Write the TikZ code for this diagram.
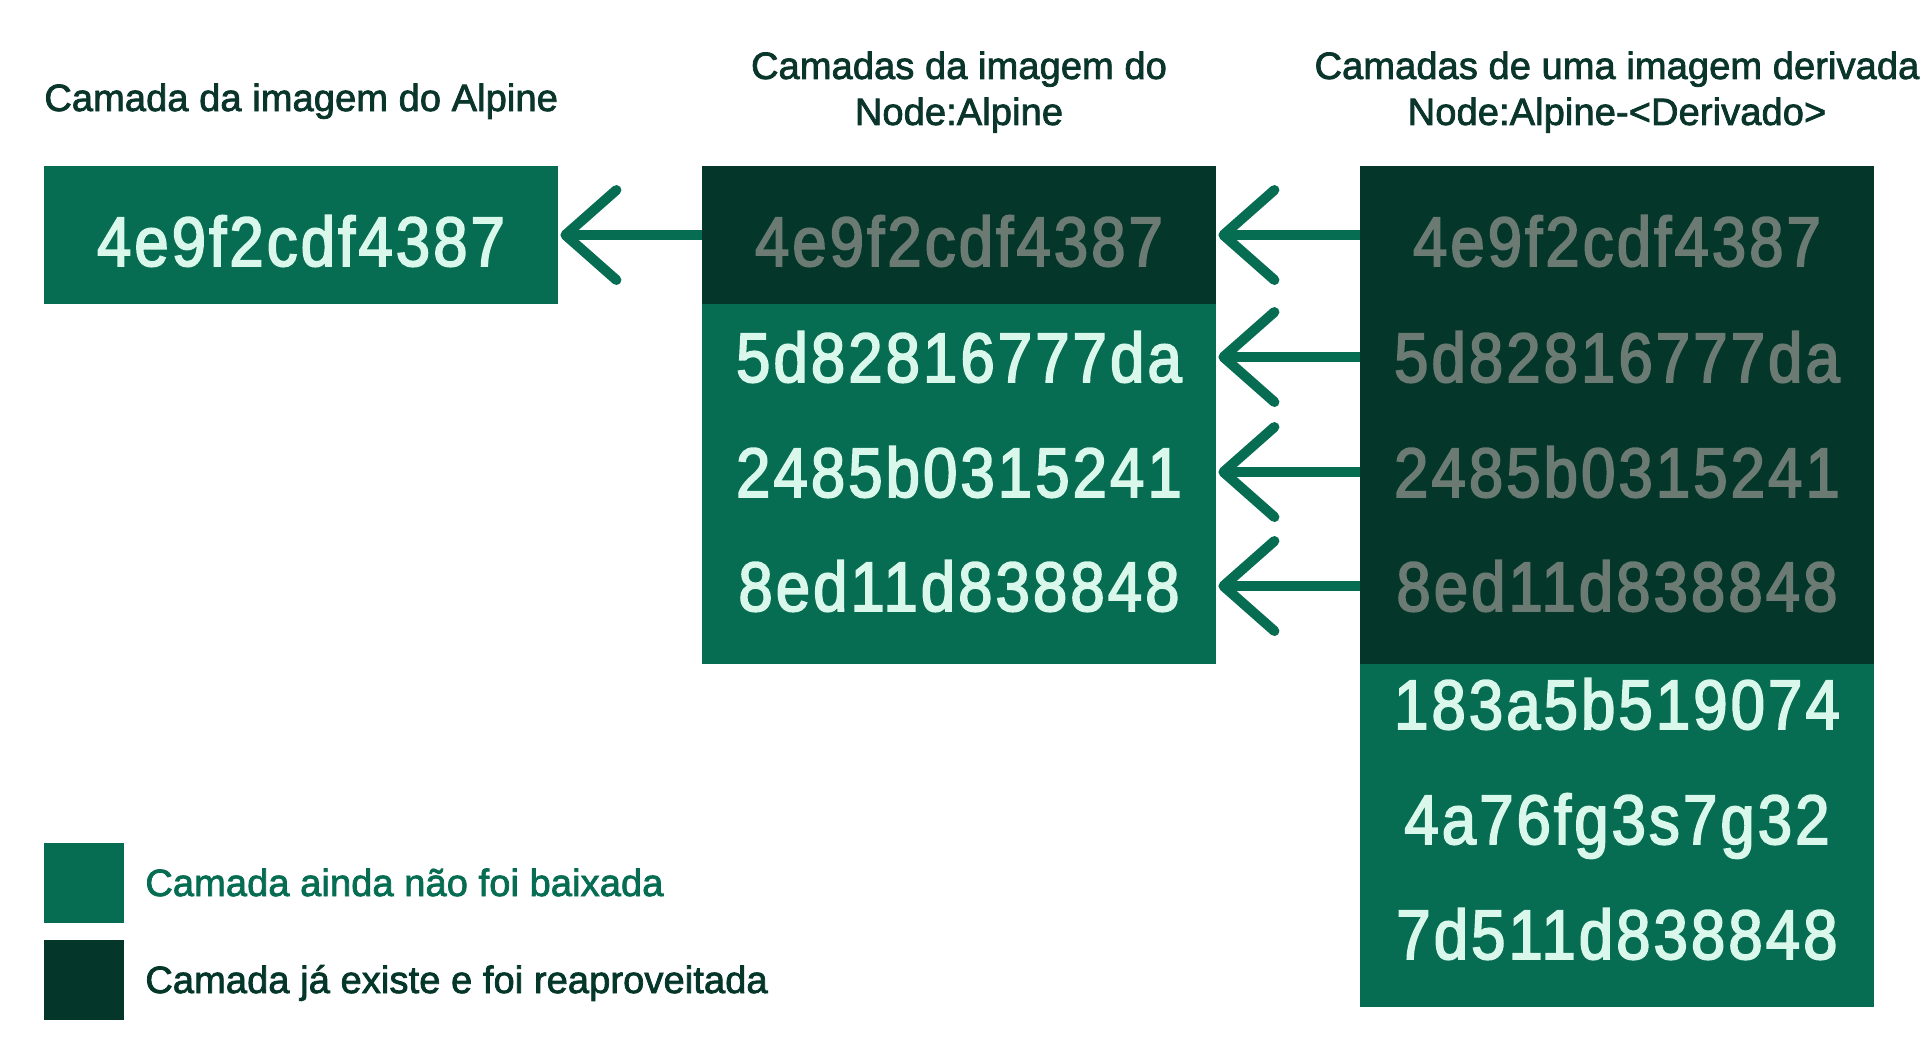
\documentclass[tikz,border=0pt]{standalone}
\usepackage{fontspec}
\setmainfont{Liberation Sans}
\newfontfamily\hashfont[FakeStretch=0.88,FakeBold=2.5,LetterSpace=4.5]{Liberation Sans}
\newfontfamily\titlefont[FakeBold=2,LetterSpace=0.3]{Liberation Sans}
\usetikzlibrary{arrows.meta}
\definecolor{midg}{HTML}{066C52}
\definecolor{darkg}{HTML}{04372A}
\definecolor{lighttext}{HTML}{D9F7EA}
\definecolor{greytext}{HTML}{6B7B73}
\definecolor{titlec}{HTML}{0A352B}
\begin{document}
\begin{tikzpicture}[x=0.5pt,y=-0.5pt,
  hash/.style={font=\hashfont\fontsize{35}{40}\selectfont, minimum width=257pt,
    text height=25pt, text depth=0pt, inner sep=0pt, text=lighttext},
  oldhash/.style={hash, text=greytext},
  toprow/.style={text height=31pt},
  conn/.style={draw=midg, line width=5pt, shorten >=1pt,
    -{Straight Barb[length=25.5pt,width=45pt,round]}},
  title/.style={font=\titlefont\fontsize{19}{23}\selectfont, text=titlec,
    inner sep=0pt, align=center},
  legtext/.style={font=\titlefont\fontsize{19}{23}\selectfont, inner sep=0pt,
    anchor=base west},
  legbox/.style={minimum width=40pt, minimum height=40pt, inner sep=0pt}]
\useasboundingbox (0,0) rectangle (1932,1057);
\fill[white] (0,0) rectangle (1932,1057);

% titles
\node[title, anchor=base west] (t1) at (44,111) {Camada da imagem do Alpine};
\node[title, anchor=north] (t2) at (959,51) {Camadas da imagem do\\Node:Alpine};
\node[title, anchor=north] (t3) at (1617,51) {Camadas de uma imagem derivada\\Node:Alpine-<Derivado>};

% column backgrounds
\fill[darkg] (702,166) rectangle (1216,304);
\fill[midg] (702,304) rectangle (1216,664);
\fill[darkg] (1360,166) rectangle (1874,664);
\fill[midg] (1360,664) rectangle (1874,1007);

% left column
\node[hash, toprow, fill=midg, minimum height=69pt] (a1) at (301,235) {4e9f2cdf4387};

% middle column
\node[oldhash, toprow] (m1) at (959,235) {4e9f2cdf4387};
\node[hash] (m2) at (959,357) {5d82816777da};
\node[hash] (m3) at (959,472) {2485b0315241};
\node[hash] (m4) at (959,586) {8ed11d838848};

% right column
\node[oldhash, toprow] (r1) at (1617,235) {4e9f2cdf4387};
\node[oldhash] (r2) at (1617,357) {5d82816777da};
\node[oldhash] (r3) at (1617,472) {2485b0315241};
\node[oldhash] (r4) at (1617,586) {8ed11d838848};
\node[hash] (r5) at (1617,704) {183a5b519074};
\node[hash] (r6) at (1617,819) {4a76fg3s7g32};
\node[hash] (r7) at (1617,934) {7d511d838848};

% connectors
\draw[conn] (m1.west) -- (a1.east);
\draw[conn] (r1.west) -- (m1.east);
\draw[conn] (r2.west) -- (m2.east);
\draw[conn] (r3.west) -- (m3.east);
\draw[conn] (r4.west) -- (m4.east);

% legend
\node[legbox, fill=midg] (lg1) at (84,883) {};
\node[legbox, fill=darkg] (lg2) at (84,980) {};
\node[legtext, text=midg] (lt1) at (145,896) {Camada ainda não foi baixada};
\node[legtext, text=darkg] (lt2) at (145,993) {Camada já existe e foi reaproveitada};
\end{tikzpicture}
\end{document}
